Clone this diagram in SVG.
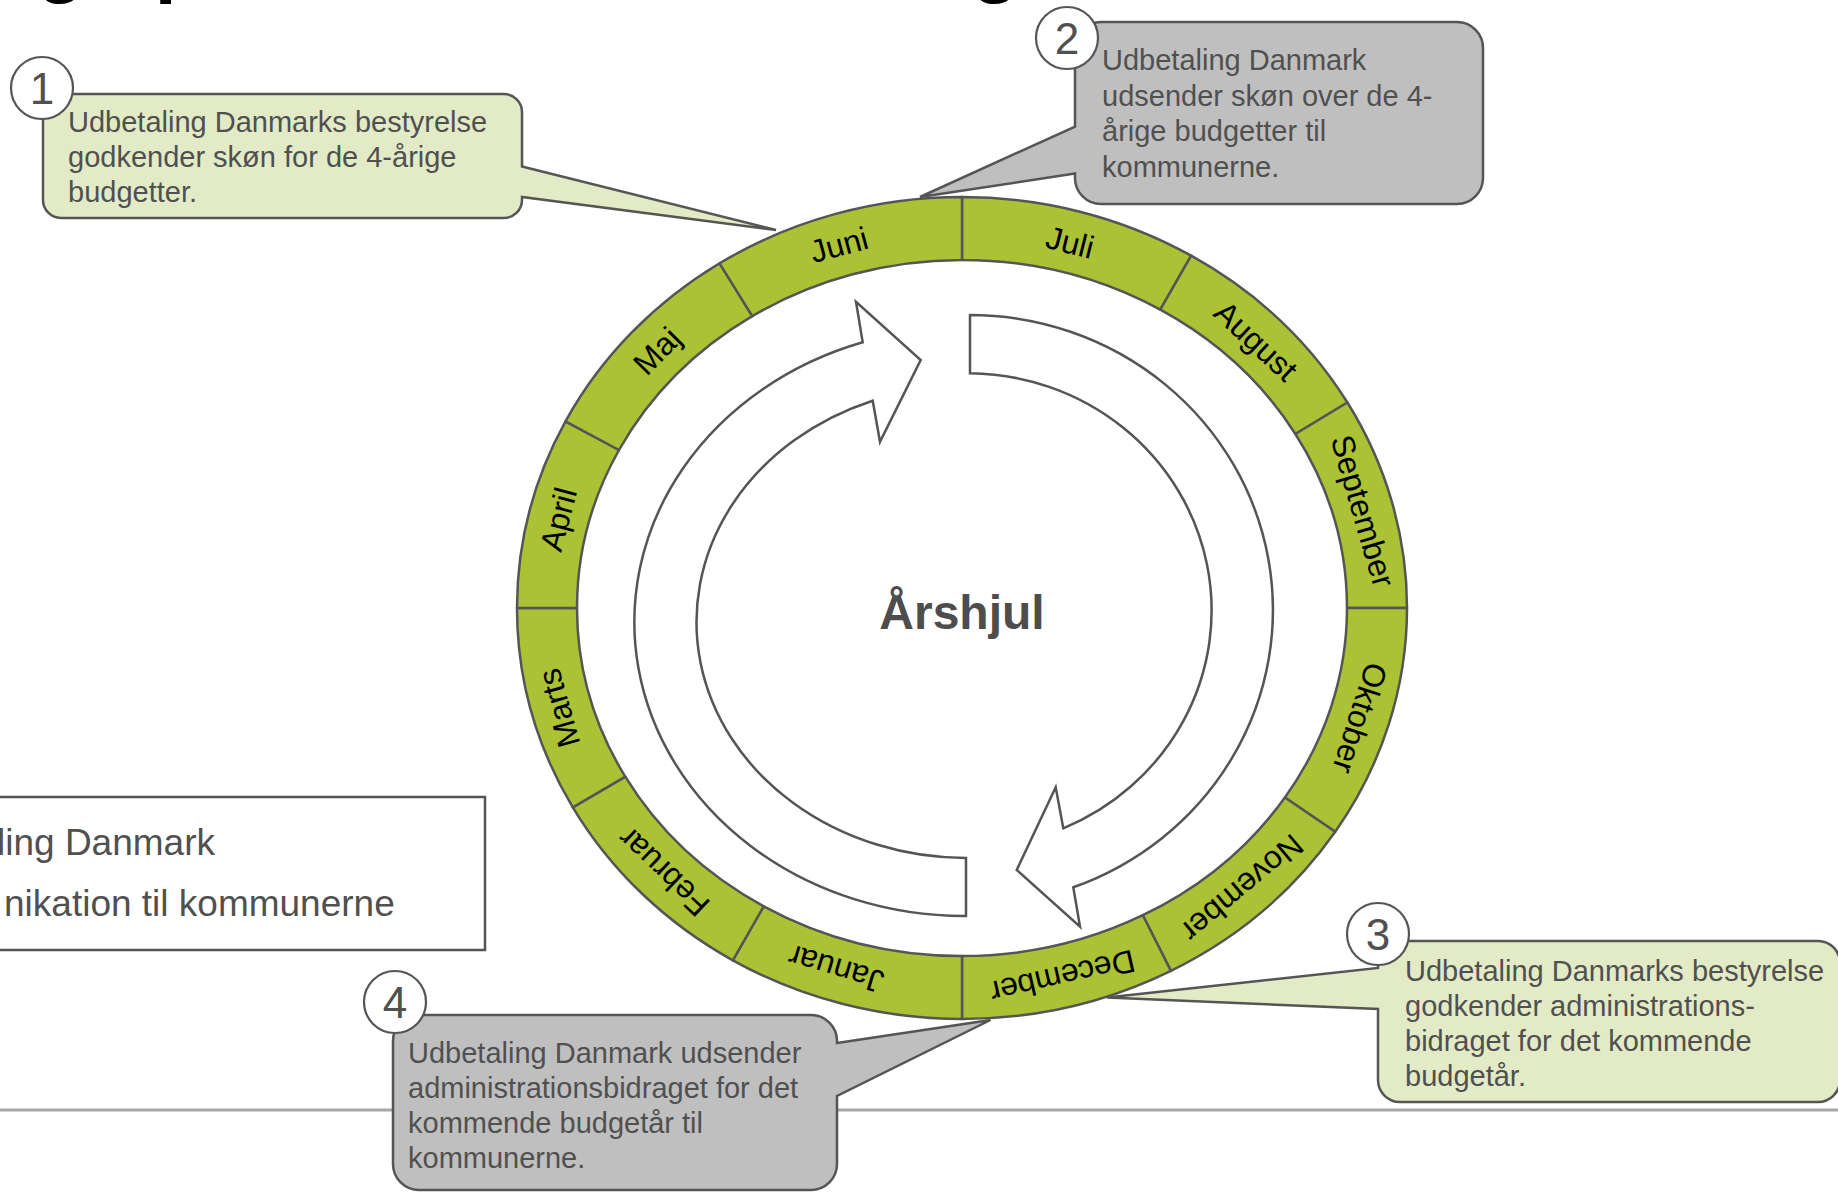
<svg xmlns="http://www.w3.org/2000/svg" width="1838" height="1192" viewBox="0 0 1838 1192">
<style>
  text{font-family:"Liberation Sans",Arial,sans-serif}
  .seg{fill:#abc235;stroke:#555;stroke-width:2.5;stroke-linejoin:round}
  .mon{font-size:32px;fill:#000;text-anchor:middle}
  .arrow{fill:#fff;stroke:#555;stroke-width:2.5;stroke-linejoin:miter}
  .cg{fill:#e2ebc6;stroke:#555;stroke-width:2.5}
  .cgr{fill:#bfbfbf;stroke:#555;stroke-width:2.5}
  .ct{font-size:29px;fill:#505050}
  .numc{fill:#fff;stroke:#555;stroke-width:2.2}
  .numt{font-size:44px;fill:#505050;text-anchor:middle}
</style>
<rect width="1838" height="1192" fill="#fff"/>
<text x="-116" y="-12" font-size="78.6" font-weight="bold" fill="#000">Budgetprocessen i Udbetaling Danmark</text>
<line x1="0" y1="1110" x2="1838" y2="1110" stroke="#a6a6a6" stroke-width="3"/>

<g id="wheel">
  <g id="m-juli"><path class="seg" d="M962,197 A445,411 0 0 1 1191.2,255.7 L1160.3,309.7 A385,348 0 0 0 962,260 Z"/><text class="mon" transform="translate(1070,242.5) rotate(14.2)" y="11">Juli</text></g>
  <g id="m-august"><path class="seg" d="M1191.2,255.7 A445,411 0 0 1 1347.4,402.5 L1295.4,434 A385,348 0 0 0 1160.3,309.7 Z"/><text class="mon" transform="translate(1256,341) rotate(43)" y="11">August</text></g>
  <g id="m-september"><path class="seg" d="M1347.4,402.5 A445,411 0 0 1 1407,608 L1347,608 A385,348 0 0 0 1295.4,434 Z"/><text class="mon" transform="translate(1362.9,511) rotate(73.7)" y="11">September</text></g>
  <g id="m-oktober"><path class="seg" d="M1407,608 A445,411 0 0 1 1335.2,831.8 L1284.9,797.5 A385,348 0 0 0 1347,608 Z"/><text class="mon" transform="translate(1359.9,718) rotate(107.9)" y="11">Oktober</text></g>
  <g id="m-november"><path class="seg" d="M1335.2,831.8 A445,411 0 0 1 1170.9,970.9 L1142.8,915.2 A385,348 0 0 0 1284.9,797.5 Z"/><text class="mon" transform="translate(1242.4,888.2) rotate(140)" y="11">November</text></g>
  <g id="m-december"><path class="seg" d="M1170.9,970.9 A445,411 0 0 1 962,1019 L962,956 A385,348 0 0 0 1142.8,915.2 Z"/><text class="mon" transform="translate(1062.4,976.7) rotate(167.1)" y="11">December</text></g>
  <g id="m-januar"><path class="seg" d="M962,1019 A445,411 0 0 1 732.8,960.3 L763.7,906.3 A385,348 0 0 0 962,956 Z"/><text class="mon" transform="translate(836,969) rotate(-163.4)" y="11">Januar</text></g>
  <g id="m-februar"><path class="seg" d="M732.8,960.3 A445,411 0 0 1 572.8,807.3 L625.3,776.7 A385,348 0 0 0 763.7,906.3 Z"/><text class="mon" transform="translate(663.5,872) rotate(-136.5)" y="11">Februar</text></g>
  <g id="m-marts"><path class="seg" d="M572.8,807.3 A445,411 0 0 1 517,608 L577,608 A385,348 0 0 0 625.3,776.7 Z"/><text class="mon" transform="translate(559,708) rotate(-105.8)" y="11">Marts</text></g>
  <g id="m-april"><path class="seg" d="M517,608 A445,411 0 0 1 565.5,421.4 L619,450 A385,348 0 0 0 577,608 Z"/><text class="mon" transform="translate(558.5,519.3) rotate(-75.3)" y="11">April</text></g>
  <g id="m-maj"><path class="seg" d="M565.5,421.4 A445,411 0 0 1 719.6,263.3 L752.3,316.1 A385,348 0 0 0 619,450 Z"/><text class="mon" transform="translate(657,351) rotate(-45.5)" y="11">Maj</text></g>
  <g id="m-juni"><path class="seg" d="M719.6,263.3 A445,411 0 0 1 962,197 L962,260 A385,348 0 0 0 752.3,316.1 Z"/><text class="mon" transform="translate(839,245) rotate(-15.2)" y="11">Juni</text></g>
</g>

<g id="arrows">
  <path id="arrow-left" class="arrow" d="M966,916 A330,294 0 0 1 862.7,342.3 L856,301.7 L920.7,360 L880,441.7 L872.7,400.7 A270,236 0 0 0 966,858 Z"/>
  <path id="arrow-right" class="arrow" d="M970,315 A303,295 0 0 1 1073.3,887.3 L1080,926.7 L1016.7,870 L1055.7,787.3 L1063.3,828.3 A244,237 0 0 0 970,373.3 Z"/>
</g>

<g id="center">
  <text x="962" y="629" font-size="48" font-weight="bold" fill="#4d4d4d" text-anchor="middle">Årshjul</text>
</g>

<g id="callout-1">
  <path class="cg" d="M61,94 H504 A18,18 0 0 1 522,112 V166.5 L776,230 L522,197 V200 A18,18 0 0 1 504,218 H61 A18,18 0 0 1 43,200 V112 A18,18 0 0 1 61,94 Z"/>
  <text class="ct"><tspan x="68" y="132">Udbetaling Danmarks bestyrelse</tspan><tspan x="68" y="167">godkender skøn for de 4-årige</tspan><tspan x="68" y="202">budgetter.</tspan></text>
  <circle class="numc" cx="42" cy="88" r="31"/>
  <text class="numt" x="42" y="104">1</text>
</g>

<g id="callout-2">
  <path class="cgr" d="M1101,22 H1457 A26,26 0 0 1 1483,48 V178 A26,26 0 0 1 1457,204 H1101 A26,26 0 0 1 1075,178 V173.5 L920,197 L1075,126.6 V48 A26,26 0 0 1 1101,22 Z"/>
  <text class="ct"><tspan x="1102" y="70">Udbetaling Danmark</tspan><tspan x="1102" y="105.5">udsender skøn over de 4-</tspan><tspan x="1102" y="141">årige budgetter til</tspan><tspan x="1102" y="176.5">kommunerne.</tspan></text>
  <circle class="numc" cx="1067" cy="38" r="31"/>
  <text class="numt" x="1067" y="54">2</text>
</g>

<g id="callout-3">
  <path class="cg" d="M1400,941 H1818 A22,22 0 0 1 1840,963 V1080 A22,22 0 0 1 1818,1102 H1400 A22,22 0 0 1 1378,1080 V1009 L1107,997.5 L1378,968 V963 A22,22 0 0 1 1400,941 Z"/>
  <text class="ct"><tspan x="1405" y="981">Udbetaling Danmarks bestyrelse</tspan><tspan x="1405" y="1016">godkender administrations-</tspan><tspan x="1405" y="1051">bidraget for det kommende</tspan><tspan x="1405" y="1086">budgetår.</tspan></text>
  <circle class="numc" cx="1378" cy="934" r="31"/>
  <text class="numt" x="1378" y="950">3</text>
</g>

<g id="callout-4">
  <path class="cgr" d="M419,1015 H811 A26,26 0 0 1 837,1041 V1043 L990.5,1020 L837,1096 V1164 A26,26 0 0 1 811,1190 H419 A26,26 0 0 1 393,1164 V1041 A26,26 0 0 1 419,1015 Z"/>
  <text class="ct"><tspan x="408" y="1063">Udbetaling Danmark udsender</tspan><tspan x="408" y="1098">administrationsbidraget for det</tspan><tspan x="408" y="1133">kommende budgetår til</tspan><tspan x="408" y="1168">kommunerne.</tspan></text>
  <circle class="numc" cx="395" cy="1002" r="31"/>
  <text class="numt" x="395" y="1018">4</text>
</g>

<g id="legend">
  <rect x="-5" y="797" width="490" height="153" fill="#fff" stroke="#555" stroke-width="2.5"/>
  <text x="-3" y="855" font-size="37" fill="#505050">ling Danmark</text>
  <text x="4" y="916" font-size="37" fill="#505050">nikation til kommunerne</text>
</g>
</svg>
